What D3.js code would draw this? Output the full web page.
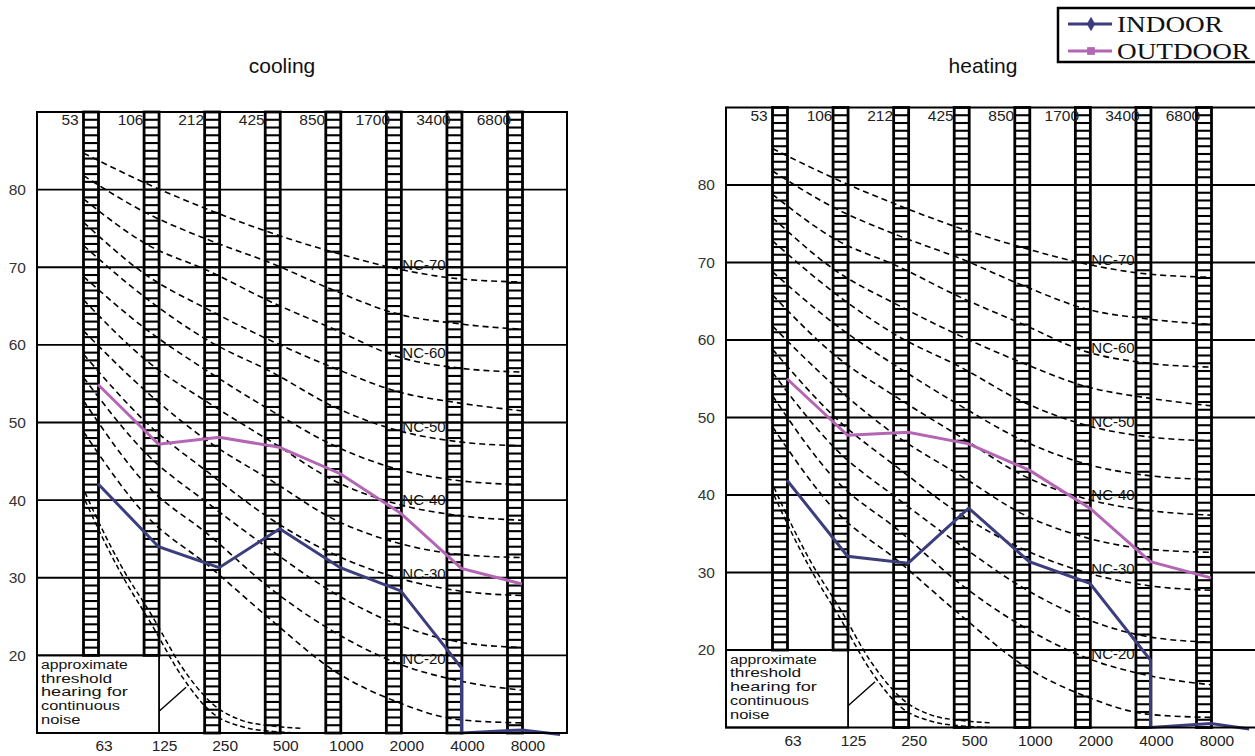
<!DOCTYPE html>
<html>
<head>
<meta charset="utf-8">
<script src="https://cdn.jsdelivr.net/npm/d3@7"></script>
<style>
  body { margin: 0; background: #fff; }
  svg { display: block; font-family: "Liberation Sans", Arial, sans-serif; }
</style>
</head>
<body>
<div id="chart"></div>
<script>
// octave bands along the bottom, band edges printed along the top
const bands = ["63", "125", "250", "500", "1000", "2000", "4000", "8000"];
const bandEdges = ["53", "106", "212", "425", "850", "1700", "3400", "6800"];
const yTicks = [20, 30, 40, 50, 60, 70, 80];

// NC reference curves (dB per octave band)
const ncNames = ["NC-70", "NC-65", "NC-60", "NC-55", "NC-50", "NC-45",
                 "NC-40", "NC-35", "NC-30", "NC-25", "NC-20", "NC-15"];
const nc70 = [84.7, 80.8, 77.4, 74.4, 71.9, 69.8, 68.5, 68.1];
const nc65 = [81.8, 77.0, 73.5, 70.5, 67.0, 64.0, 62.7, 62.0];
const nc60 = [78.8, 73.0, 69.5, 65.5, 62.0, 58.5, 57.0, 56.5];
const nc55 = [75.8, 69.0, 64.5, 60.5, 57.0, 54.0, 52.5, 51.5];
const nc50 = [72.8, 66.0, 60.5, 56.5, 52.0, 49.0, 47.5, 47.0];
const nc45 = [68.8, 62.0, 56.5, 51.5, 47.0, 44.0, 42.5, 42.0];
const nc40 = [65.8, 58.0, 52.5, 47.5, 42.5, 39.5, 38.0, 37.4];
const nc35 = [61.8, 54.0, 47.5, 42.5, 37.5, 34.5, 33.0, 32.6];
const nc30 = [58.8, 50.0, 43.5, 37.5, 33.0, 30.0, 28.3, 27.7];
const nc25 = [55.8, 46.0, 39.5, 33.5, 28.0, 24.0, 21.7, 21.0];
const nc20 = [52.8, 42.0, 35.5, 28.5, 23.0, 19.0, 16.7, 15.5];
const nc15 = [48.8, 38.0, 31.5, 24.5, 18.0, 14.0, 11.7, 11.3];
const ncCurves = [nc70, nc65, nc60, nc55, nc50, nc45, nc40, nc35, nc30, nc25, nc20, nc15];

// approximate threshold of hearing (double dashed line), band index -> dB
const thresholdPos = [-0.1, 0.2, 0.5, 1, 1.5, 2, 2.5, 3, 3.5];
const thresholdUpper = [41, 36, 31.5, 25.2, 18.5, 13.8, 11.6, 10.9, 10.6];
const thresholdLower = [40, 35, 30.5, 24, 17.3, 12.6, 10.8, 10.2, 10];
const thresholdNote = ["approximate", "threshold", "hearing for", "continuous", "noise"];

// measured spectra
const coolingOutdoor = [54.9, 47.2, 48.1, 46.8, 43.4, 38.3, 31.2, 29.2];
const heatingOutdoor = [55.0, 47.7, 48.1, 46.6, 43.2, 38.3, 31.4, 29.3];
// indoor series drops off the bottom after 4000 Hz
const indoorPos = [0, 1, 2, 3, 4, 5, 6, 6, 7, 7.63];
const coolingIndoor = [42.1, 34.0, 31.3, 36.3, 31.3, 28.3, 18.4, 10, 10.4, 9.8];
const heatingIndoor = [41.9, 32.1, 31.2, 38.3, 31.4, 28.6, 18.7, 10, 10.5, 9.8];

const INDOOR_COLOR = "#3b3d7c";
const OUTDOOR_COLOR = "#b466b4";

const svg = d3.select("#chart").append("svg")
    .attr("width", 1255)
    .attr("height", 756);

const panels = [
    { title: "cooling", titleX: 282, left: 37, top: 112, width: 530, height: 621,
      indoor: coolingIndoor, outdoor: coolingOutdoor },
    { title: "heating", titleX: 983, left: 726, top: 107.5, width: 532, height: 620,
      indoor: heatingIndoor, outdoor: heatingOutdoor }
];

panels.forEach(drawPanel);
drawLegend();

function drawPanel(p) {
    const g = svg.append("g").attr("transform", `translate(${p.left},${p.top})`);

    // band centres, and the span the NC curves are drawn over
    const x = d3.scaleLinear().domain([0, 7]).range([54, 478]);
    const xc = d3.scaleLinear().domain([0, 7]).range([46.5, 485.5]);
    const y = d3.scaleLinear().domain([10, 90]).range([p.height, 0]);
    const barW = 15;

    svg.append("text")
        .attr("x", p.titleX)
        .attr("y", 73)
        .attr("text-anchor", "middle")
        .attr("font-size", 21)
        .attr("fill", "#111")
        .text(p.title);

    // horizontal grid
    g.selectAll(".grid")
        .data(yTicks)
        .enter()
        .append("line")
        .attr("x1", 0)
        .attr("x2", p.width)
        .attr("y1", d => y(d))
        .attr("y2", d => y(d))
        .attr("stroke", "#000")
        .attr("stroke-width", 1.8);

    g.selectAll(".ylab")
        .data(yTicks)
        .enter()
        .append("text")
        .attr("x", -11)
        .attr("y", d => y(d))
        .attr("dy", "0.35em")
        .attr("text-anchor", "end")
        .attr("font-size", 15.5)
        .attr("fill", "#333")
        .text(d => d);

    // box for the threshold note
    const boxRight = x(1) + barW / 2;
    g.append("rect")
        .attr("x", 0)
        .attr("y", y(20))
        .attr("width", boxRight)
        .attr("height", y(10) - y(20))
        .attr("fill", "none")
        .attr("stroke", "#000")
        .attr("stroke-width", 1.8);

    g.selectAll(".note")
        .data(thresholdNote)
        .enter()
        .append("text")
        .attr("x", 4)
        .attr("y", (d, i) => y(20) + 13.5 + i * 13.8)
        .attr("font-size", 12.5)
        .attr("textLength", d => d.length * 7.9)
        .attr("lengthAdjust", "spacingAndGlyphs")
        .attr("fill", "#111")
        .text(d => d);

    // ladder bars at each octave band
    bands.forEach(function(b, i) {
        const low = i < 2 ? 20 : 10;
        const lg = g.append("g");
        lg.selectAll("line")
            .data(d3.range(low + 1, 90))
            .enter()
            .append("line")
            .attr("x1", x(i) - barW / 2)
            .attr("x2", x(i) + barW / 2)
            .attr("y1", d => y(d))
            .attr("y2", d => y(d))
            .attr("stroke", "#000")
            .attr("stroke-width", 2.1);
        lg.append("rect")
            .attr("x", x(i) - barW / 2)
            .attr("y", 0)
            .attr("width", barW)
            .attr("height", y(low))
            .attr("fill", "none")
            .attr("stroke", "#000")
            .attr("stroke-width", 2.8);
    });

    // NC curves
    const ncLine = d3.line()
        .x((d, i) => xc(i))
        .y(d => y(d))
        .curve(d3.curveMonotoneX);

    g.selectAll(".nc")
        .data(ncCurves)
        .enter()
        .append("path")
        .attr("d", ncLine)
        .attr("fill", "none")
        .attr("stroke", "#000")
        .attr("stroke-width", 1.6)
        .attr("stroke-dasharray", "6,4");

    g.selectAll(".nclab")
        .data(ncCurves.filter((d, i) => i % 2 === 0))
        .enter()
        .append("text")
        .attr("x", x(5) + barW / 2 + 1)
        .attr("y", d => y(d[5]) - 4)
        .attr("dy", "0.35em")
        .attr("font-size", 15)
        .attr("fill", "#111")
        .text((d, i) => ncNames[i * 2]);

    // threshold of hearing, double dashed
    const thLine = d3.line()
        .x((d, i) => x(thresholdPos[i]))
        .y(d => y(d))
        .curve(d3.curveMonotoneX);

    g.selectAll(".th")
        .data([thresholdUpper, thresholdLower])
        .enter()
        .append("path")
        .attr("d", thLine)
        .attr("fill", "none")
        .attr("stroke", "#000")
        .attr("stroke-width", 1.5)
        .attr("stroke-dasharray", "5,3");

    g.append("line")
        .attr("x1", boxRight)
        .attr("y1", y(12.8))
        .attr("x2", boxRight + 27)
        .attr("y2", y(15.9))
        .attr("stroke", "#000")
        .attr("stroke-width", 1.4);

    // measured spectra, vertices sit on the right of each ladder
    const shift = 7;
    const outLine = d3.line()
        .x((d, i) => x(i) + shift)
        .y(d => y(d));
    const inLine = d3.line()
        .x((d, i) => x(indoorPos[i]) + shift)
        .y(d => y(d));

    g.append("path")
        .attr("d", outLine(p.outdoor))
        .attr("fill", "none")
        .attr("stroke", OUTDOOR_COLOR)
        .attr("stroke-width", 3);

    g.append("path")
        .attr("d", inLine(p.indoor))
        .attr("fill", "none")
        .attr("stroke", INDOOR_COLOR)
        .attr("stroke-width", 3);

    // frame
    g.append("rect")
        .attr("x", 0)
        .attr("y", 0)
        .attr("width", p.width)
        .attr("height", p.height)
        .attr("fill", "none")
        .attr("stroke", "#000")
        .attr("stroke-width", 2);

    g.selectAll(".edge")
        .data(bandEdges)
        .enter()
        .append("text")
        .attr("x", (d, i) => x(i) - 21)
        .attr("y", 13)
        .attr("text-anchor", "middle")
        .attr("font-size", 15.5)
        .attr("fill", "#222")
        .text(d => d);

    g.selectAll(".band")
        .data(bands)
        .enter()
        .append("text")
        .attr("x", (d, i) => x(i) + 13)
        .attr("y", p.height + 18)
        .attr("text-anchor", "middle")
        .attr("font-size", 15.5)
        .attr("fill", "#222")
        .text(d => d);
}

function drawLegend() {
    const lg = svg.append("g").attr("transform", "translate(1058,8)");
    lg.append("rect")
        .attr("x", 0)
        .attr("y", 0)
        .attr("width", 215)
        .attr("height", 54)
        .attr("fill", "#fff")
        .attr("stroke", "#000")
        .attr("stroke-width", 2.5);

    const items = [
        { name: "INDOOR", color: INDOOR_COLOR, marker: d3.symbolDiamond, len: 106 },
        { name: "OUTDOOR", color: OUTDOOR_COLOR, marker: d3.symbolSquare, len: 133 }
    ];

    items.forEach(function(d, i) {
        const cy = 16 + i * 27;
        lg.append("line")
            .attr("x1", 10)
            .attr("x2", 54)
            .attr("y1", cy)
            .attr("y2", cy)
            .attr("stroke", d.color)
            .attr("stroke-width", 3);
        lg.append("path")
            .attr("d", d3.symbol().type(d.marker).size(60)())
            .attr("transform", `translate(33,${cy})`)
            .attr("fill", d.color);
        lg.append("text")
            .attr("x", 59)
            .attr("y", cy + 8)
            .attr("font-family", "'Liberation Serif', 'Times New Roman', serif")
            .attr("font-size", 23)
            .attr("textLength", d.len)
            .attr("lengthAdjust", "spacingAndGlyphs")
            .attr("fill", "#111")
            .text(d.name);
    });
}
</script>
</body>
</html>
